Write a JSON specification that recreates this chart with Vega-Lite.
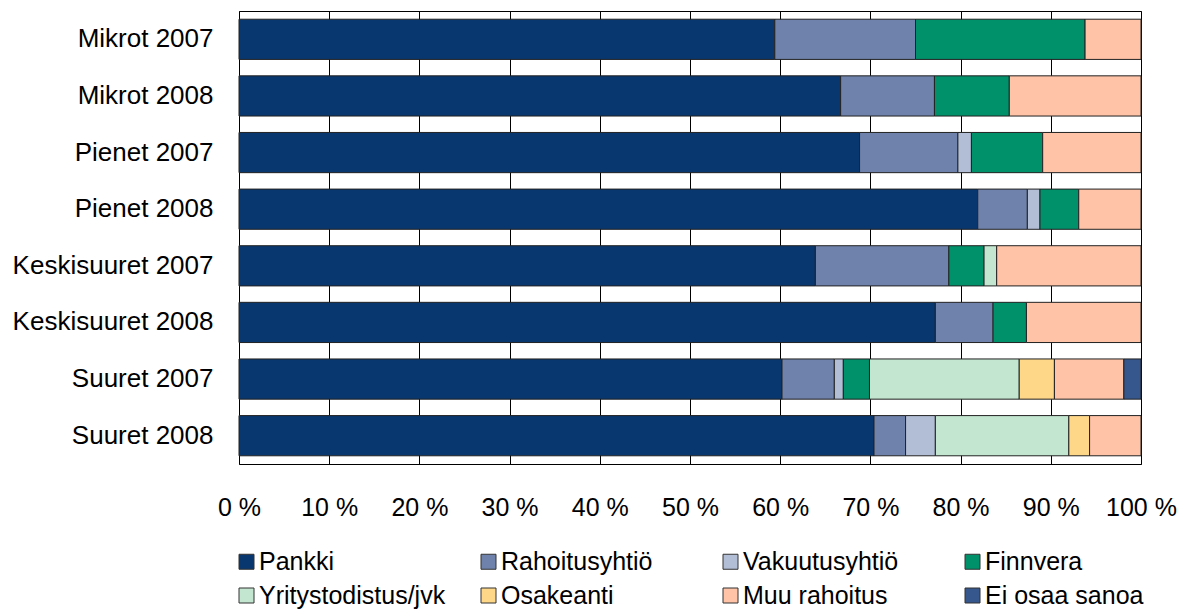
{
  "$schema": "https://vega.github.io/schema/vega-lite/v6.json",
  "width": 902,
  "height": 453,
  "autosize": {"type": "none"},
  "padding": {"left": 239, "top": 11, "right": 46, "bottom": 151},
  "background": "white",
  "config": {
    "font": "Liberation Sans",
    "view": {"stroke": "#000000", "strokeWidth": 1}
  },
  "data": {
    "values": [
      {"group": "Mikrot 2007", "src": "Pankki", "o": 1, "v": 59.4},
      {"group": "Mikrot 2007", "src": "Rahoitusyhtiö", "o": 2, "v": 15.6},
      {"group": "Mikrot 2007", "src": "Finnvera", "o": 4, "v": 18.8},
      {"group": "Mikrot 2007", "src": "Muu rahoitus", "o": 7, "v": 6.2},
      {"group": "Mikrot 2008", "src": "Pankki", "o": 1, "v": 66.7},
      {"group": "Mikrot 2008", "src": "Rahoitusyhtiö", "o": 2, "v": 10.4},
      {"group": "Mikrot 2008", "src": "Finnvera", "o": 4, "v": 8.3},
      {"group": "Mikrot 2008", "src": "Muu rahoitus", "o": 7, "v": 14.6},
      {"group": "Pienet 2007", "src": "Pankki", "o": 1, "v": 68.8},
      {"group": "Pienet 2007", "src": "Rahoitusyhtiö", "o": 2, "v": 10.9},
      {"group": "Pienet 2007", "src": "Vakuutusyhtiö", "o": 3, "v": 1.5},
      {"group": "Pienet 2007", "src": "Finnvera", "o": 4, "v": 7.9},
      {"group": "Pienet 2007", "src": "Muu rahoitus", "o": 7, "v": 10.9},
      {"group": "Pienet 2008", "src": "Pankki", "o": 1, "v": 81.9},
      {"group": "Pienet 2008", "src": "Rahoitusyhtiö", "o": 2, "v": 5.5},
      {"group": "Pienet 2008", "src": "Vakuutusyhtiö", "o": 3, "v": 1.4},
      {"group": "Pienet 2008", "src": "Finnvera", "o": 4, "v": 4.3},
      {"group": "Pienet 2008", "src": "Muu rahoitus", "o": 7, "v": 6.9},
      {"group": "Keskisuuret 2007", "src": "Pankki", "o": 1, "v": 63.9},
      {"group": "Keskisuuret 2007", "src": "Rahoitusyhtiö", "o": 2, "v": 14.8},
      {"group": "Keskisuuret 2007", "src": "Finnvera", "o": 4, "v": 3.9},
      {"group": "Keskisuuret 2007", "src": "Yritystodistus/jvk", "o": 5, "v": 1.4},
      {"group": "Keskisuuret 2007", "src": "Muu rahoitus", "o": 7, "v": 16.0},
      {"group": "Keskisuuret 2008", "src": "Pankki", "o": 1, "v": 77.2},
      {"group": "Keskisuuret 2008", "src": "Rahoitusyhtiö", "o": 2, "v": 6.4},
      {"group": "Keskisuuret 2008", "src": "Finnvera", "o": 4, "v": 3.7},
      {"group": "Keskisuuret 2008", "src": "Muu rahoitus", "o": 7, "v": 12.7},
      {"group": "Suuret 2007", "src": "Pankki", "o": 1, "v": 60.2},
      {"group": "Suuret 2007", "src": "Rahoitusyhtiö", "o": 2, "v": 5.8},
      {"group": "Suuret 2007", "src": "Vakuutusyhtiö", "o": 3, "v": 1.0},
      {"group": "Suuret 2007", "src": "Finnvera", "o": 4, "v": 2.9},
      {"group": "Suuret 2007", "src": "Yritystodistus/jvk", "o": 5, "v": 16.6},
      {"group": "Suuret 2007", "src": "Osakeanti", "o": 6, "v": 3.9},
      {"group": "Suuret 2007", "src": "Muu rahoitus", "o": 7, "v": 7.7},
      {"group": "Suuret 2007", "src": "Ei osaa sanoa", "o": 8, "v": 1.9},
      {"group": "Suuret 2008", "src": "Pankki", "o": 1, "v": 70.4},
      {"group": "Suuret 2008", "src": "Rahoitusyhtiö", "o": 2, "v": 3.5},
      {"group": "Suuret 2008", "src": "Vakuutusyhtiö", "o": 3, "v": 3.3},
      {"group": "Suuret 2008", "src": "Yritystodistus/jvk", "o": 5, "v": 14.8},
      {"group": "Suuret 2008", "src": "Osakeanti", "o": 6, "v": 2.3},
      {"group": "Suuret 2008", "src": "Muu rahoitus", "o": 7, "v": 5.7}
    ]
  },
  "mark": {"type": "bar", "stroke": "#222222", "strokeWidth": 1},
  "encoding": {
    "y": {
      "field": "group",
      "type": "nominal",
      "sort": null,
      "scale": {"paddingInner": 0.29, "paddingOuter": 0.145},
      "axis": {
        "title": null,
        "domain": false,
        "ticks": false,
        "labelFontSize": 26,
        "labelColor": "#000000",
        "labelPadding": 26,
        "labelLimit": 0
      }
    },
    "x": {
      "field": "v",
      "type": "quantitative",
      "stack": "normalize",
      "scale": {"domain": [0, 1], "nice": false},
      "axis": {
        "title": null,
        "domain": false,
        "ticks": false,
        "grid": true,
        "gridColor": "#000000",
        "gridOpacity": 1,
        "gridWidth": 1,
        "values": [0, 0.1, 0.2, 0.3, 0.4, 0.5, 0.6, 0.7, 0.8, 0.9, 1],
        "labelExpr": "format(datum.value * 100, 'd') + ' %'",
        "labelFontSize": 25,
        "labelColor": "#000000",
        "labelPadding": 31,
        "labelFlush": false,
        "labelOverlap": false
      }
    },
    "color": {
      "field": "src",
      "type": "nominal",
      "scale": {
        "domain": ["Pankki", "Rahoitusyhtiö", "Vakuutusyhtiö", "Finnvera", "Yritystodistus/jvk", "Osakeanti", "Muu rahoitus", "Ei osaa sanoa"],
        "range": ["#08376F", "#6F82AB", "#B2BDD6", "#00906A", "#C2E6CF", "#FFD789", "#FFC3A8", "#36578D"]
      },
      "legend": {
        "title": null,
        "orient": "none",
        "legendX": -5,
        "legendY": 538,
        "columns": 4,
        "direction": "horizontal",
        "gridAlign": "all",
        "columnPadding": 30,
        "rowPadding": 8,
        "symbolType": "square",
        "symbolSize": 225,
        "symbolStrokeColor": "#333333",
        "symbolStrokeWidth": 1,
        "symbolOffset": 0,
        "labelOffset": 0,
        "labelFontSize": 25,
        "labelColor": "#000000",
        "labelLimit": 0
      }
    },
    "order": {"field": "o", "type": "quantitative"}
  }
}
